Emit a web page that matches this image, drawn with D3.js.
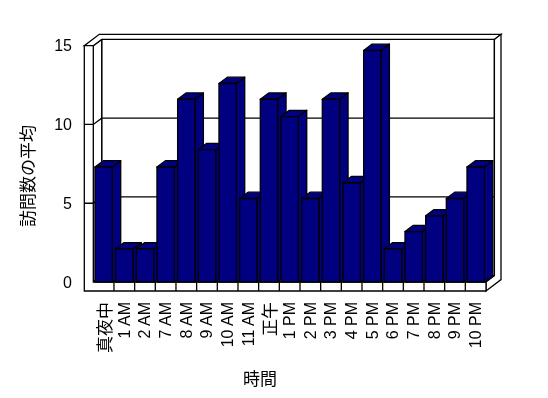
<!DOCTYPE html>
<html>
<head>
    <meta charset="UTF-8">
    <style>
        body { margin: 0; background: #fff; }
        svg { display: block; will-change: transform; }
        text {
            font-family: "Liberation Sans", "Noto Sans CJK JP", sans-serif;
            font-size: 16px;
            fill: #000;
        }
        text.cjk { font-family: "Noto Sans CJK JP", sans-serif; font-size: 17px; }
        .labels { opacity: 0.999; }
        .wall { fill: #fff; stroke: #000; stroke-width: 1.3px; stroke-linejoin: miter; }
        .grid { stroke: #000; stroke-width: 1.3px; fill: none; }
        .bar { fill: #000080; stroke: #000; stroke-width: 1.3px; stroke-linejoin: round; }
    </style>
</head>
<body>
<div id="chart"></div>
<script src="https://cdnjs.cloudflare.com/ajax/libs/d3/7.8.5/d3.min.js"></script>
<script>

    // categories (hour of day) and mean visit counts
    var hours = ["真夜中", "1 AM", "2 AM", "7 AM", "8 AM", "9 AM", "10 AM", "11 AM", "正午",
        "1 PM", "2 PM", "3 PM", "4 PM", "5 PM", "6 PM", "7 PM", "8 PM", "9 PM", "10 PM"];
    var visits = [7.3, 2.1, 2.1, 7.3, 11.6, 8.4, 12.6, 5.3, 11.6,
        10.5, 5.3, 11.6, 6.3, 14.7, 2.1, 3.2, 4.2, 5.3, 7.3];
    var yTicks = [0, 5, 10, 15];

    var width = 548, height = 398;

    var svg = d3.select("#chart").append("svg")
        .attr("width", width)
        .attr("height", height);

    // plot front plane
    var left = 93.3, right = 486;
    var dx = 8.4, dy = -6.3;      // depth of the plot
    var tx = 6.6, ty = -5.1;      // thickness of the back wall
    var wall = 9;                 // thickness of side wall / floor

    var x = d3.scaleBand()
        .domain(hours)
        .range([left, right])
        .paddingInner(0.16)
        .paddingOuter(0.08);

    var y = d3.scaleLinear()
        .domain([0, 15])
        .range([282, 45.7]);

    var y0 = y(0), yTop = y(15);

    function poly(pts) {
        return "M" + pts.map(function (p) { return p[0] + "," + p[1]; }).join("L") + "Z";
    }

    function isCjk(s) {
        return /[^\x00-\x7f]/.test(s);
    }

    var walls = svg.append("g");

    // back wall, inner face
    walls.append("path").attr("class", "wall")
        .attr("d", poly([[left + dx, yTop + dy], [right + dx, yTop + dy], [right + dx, y0 + dy], [left + dx, y0 + dy]]));

    // left wall, inner face
    walls.append("path").attr("class", "wall")
        .attr("d", poly([[left, yTop], [left + dx, yTop + dy], [left + dx, y0 + dy], [left, y0]]));

    // floor, top face
    walls.append("path").attr("class", "wall")
        .attr("d", poly([[left, y0], [right, y0], [right + dx, y0 + dy], [left + dx, y0 + dy]]));

    // top of walls
    walls.append("path").attr("class", "wall")
        .attr("d", poly([[left - wall, yTop], [left, yTop], [left + dx, yTop + dy], [right + dx, yTop + dy],
            [right + dx + tx, yTop + dy + ty], [left - wall + dx + tx, yTop + dy + ty]]));

    // right end of back wall and floor
    walls.append("path").attr("class", "wall")
        .attr("d", poly([[right + dx, yTop + dy], [right + dx + tx, yTop + dy + ty],
            [right + dx + tx, y0 + wall + dy + ty], [right, y0 + wall], [right, y0], [right + dx, y0 + dy]]));

    // front faces of left wall and floor
    walls.append("path").attr("class", "wall")
        .attr("d", poly([[left - wall, yTop], [left, yTop], [left, y0], [right, y0], [right, y0 + wall], [left - wall, y0 + wall]]));

    // gridlines: front tick, left wall, back wall
    var grid = svg.append("g");
    yTicks.filter(function (d) { return d > 0 && d < 15; }).forEach(function (d) {
        grid.append("path").attr("class", "grid")
            .attr("d", "M" + (left - wall) + "," + y(d) + "L" + left + "," + y(d) +
                "L" + (left + dx) + "," + (y(d) + dy) + "L" + (right + dx) + "," + (y(d) + dy));
    });

    // category ticks on the floor front face
    hours.forEach(function (h, i) {
        if (i === 0) return;
        var cx = left + i * x.step();
        grid.append("line").attr("class", "grid")
            .attr("x1", cx).attr("x2", cx)
            .attr("y1", y0).attr("y2", y0 + wall);
    });

    // bars
    var bars = svg.append("g").selectAll("g")
        .data(hours)
        .enter().append("g");

    bars.each(function (h, i) {
        var g = d3.select(this);
        var x0 = x(h), x1 = x(h) + x.bandwidth(), yv = y(visits[i]);
        g.append("path").attr("class", "bar")
            .attr("d", poly([[x1, yv], [x1 + dx, yv + dy], [x1 + dx, y0 + dy], [x1, y0]]));
        g.append("path").attr("class", "bar")
            .attr("d", poly([[x0, yv], [x1, yv], [x1 + dx, yv + dy], [x0 + dx, yv + dy]]));
        g.append("path").attr("class", "bar")
            .attr("d", poly([[x0, yv], [x1, yv], [x1, y0], [x0, y0]]));
    });

    var labels = svg.append("g").attr("class", "labels");

    // y axis labels
    labels.append("g").selectAll("text")
        .data(yTicks)
        .enter().append("text")
        .attr("x", 72)
        .attr("y", function (d) { return y(d); })
        .attr("text-anchor", "end")
        .attr("dominant-baseline", "central")
        .text(function (d) { return d; });

    // x axis labels
    labels.append("g").selectAll("text")
        .data(hours)
        .enter().append("text")
        .attr("class", function (d) { return isCjk(d) ? "cjk" : null; })
        .attr("transform", function (d, i) {
            return "translate(" + (left + (i + 0.5) * x.step()) + ",302) rotate(-90)";
        })
        .attr("text-anchor", "end")
        .attr("dominant-baseline", "central")
        .text(function (d) { return d; });

    // axis titles
    labels.append("text")
        .attr("class", "cjk")
        .attr("transform", "translate(26,176) rotate(-90)")
        .attr("text-anchor", "middle")
        .attr("dominant-baseline", "central")
        .text("訪問数の平均");

    labels.append("text")
        .attr("class", "cjk")
        .attr("x", 260)
        .attr("y", 377)
        .attr("text-anchor", "middle")
        .attr("dominant-baseline", "central")
        .text("時間");

</script>
</body>
</html>
